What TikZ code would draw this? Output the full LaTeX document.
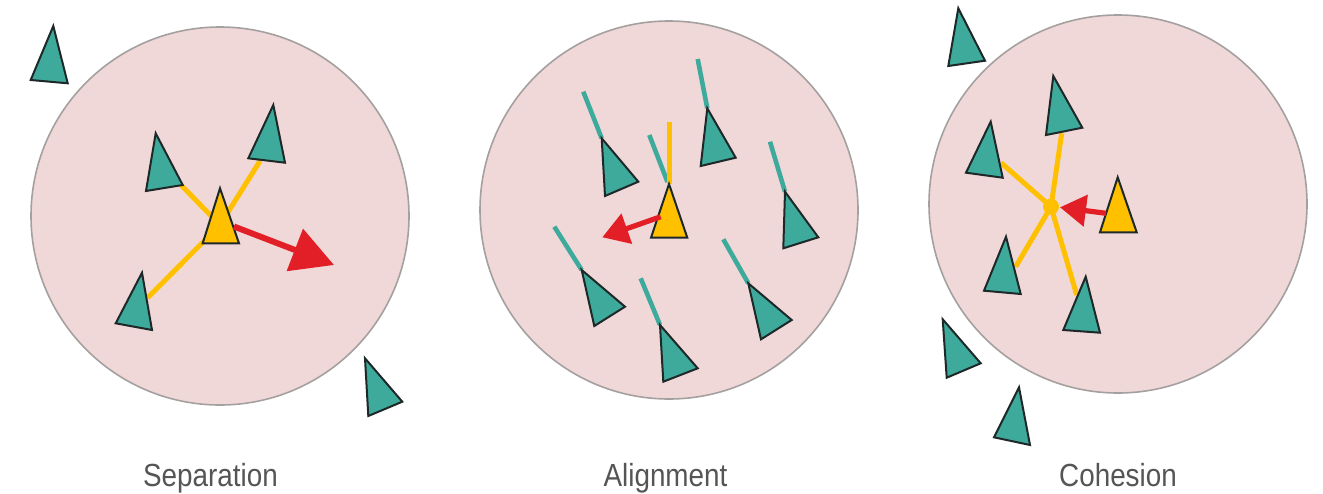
\documentclass[tikz,border=0pt]{standalone}
\usepackage{fontspec}
\setmainfont{Liberation Sans}
\usetikzlibrary{arrows.meta}
\definecolor{pinkfill}{RGB}{240,216,216}
\definecolor{ringgray}{RGB}{165,160,160}
\definecolor{boidteal}{RGB}{62,170,156}
\definecolor{boidyellow}{RGB}{255,192,0}
\definecolor{arrowred}{RGB}{226,30,38}
\definecolor{labelgray}{RGB}{85,85,85}
\definecolor{edgedark}{RGB}{30,40,40}
\newcommand\boidtri[4]{\filldraw[#1] #2 -- #3 -- #4 -- cycle;}
\begin{document}
\begin{tikzpicture}[x=0.5pt,y=-0.5pt,
  zone/.style={fill=pinkfill,draw=ringgray,line width=0.8pt},
  tealboid/.style={fill=boidteal,draw=edgedark,line width=1pt,line join=miter},
  yellowboid/.style={fill=boidyellow,draw=edgedark,line width=1pt,line join=miter},
  yline/.style={draw=boidyellow,line width=2.5pt},
  tline/.style={draw=boidteal,line width=2.3pt},
  bigred/.style={draw=arrowred,line width=3pt,-{Triangle[length=21pt,width=22pt]}},
  smallred/.style={draw=arrowred,line width=2.6pt,-{Triangle[length=13pt,width=15.5pt]}},
  lbl/.style={text=labelgray,font=\fontsize{16}{18}\selectfont,inner sep=0pt,anchor=base,xscale=0.87}]
\useasboundingbox (0,0) rectangle (1323,493);

% ---------------- Separation ----------------
\draw[zone] (220,216) circle[radius=189];
\coordinate (s1) at (220,225);
\coordinate (sa) at (181,185);
\coordinate (sb) at (260,161);
\coordinate (sc) at (147.7,297.7);
\draw[yline] (sa) -- (s1);
\draw[yline] (sb) -- (s1);
\draw[yline] (sc) -- (s1);
\boidtri{tealboid}{(53.3,26)}{(30.7,80)}{(67.7,83.3)}
\boidtri{tealboid}{(155.7,133.3)}{(146,191)}{(182.7,185)}
\boidtri{tealboid}{(273.3,105)}{(248.3,158.3)}{(285,162.7)}
\boidtri{tealboid}{(142,272.7)}{(115.7,323.3)}{(152,330)}
\boidtri{tealboid}{(365,358.3)}{(368.3,416)}{(402.3,401.7)}
\boidtri{yellowboid}{(220,188.3)}{(202.7,243.3)}{(239,243.3)}
\coordinate (sr0) at (234,226.5);
\coordinate (sr1) at (334,265);
\draw[bigred] (sr0) -- (sr1);
\node[lbl] (lsep) at (210.5,486) {Separation};

% ---------------- Alignment ----------------
\draw[zone] (669,210) circle[radius=189];
\coordinate (a1s) at (583.3,91.7);  \coordinate (a1e) at (601.7,138.3);
\coordinate (a2s) at (697.7,59);    \coordinate (a2e) at (707.3,108.3);
\coordinate (a4s) at (770,141.7);   \coordinate (a4e) at (785,191.7);
\coordinate (a5s) at (554.3,226.7); \coordinate (a5e) at (581.7,270);
\coordinate (a6s) at (640.7,278.3); \coordinate (a6e) at (660,325);
\coordinate (a7s) at (723.3,239.3); \coordinate (a7e) at (748.3,283.3);
\coordinate (avs) at (649.3,135);   \coordinate (ave) at (667.5,182);
\coordinate (ays) at (669,121.7);   \coordinate (aye) at (669,184);
\draw[tline] (a1s) -- (a1e);
\draw[tline] (a2s) -- (a2e);
\draw[tline] (a4s) -- (a4e);
\draw[tline] (a5s) -- (a5e);
\draw[tline] (a6s) -- (a6e);
\draw[tline] (a7s) -- (a7e);
\draw[tline] (avs) -- (ave);
\draw[yline] (ays) -- (aye);
\boidtri{tealboid}{(601.7,138.3)}{(605,196)}{(638.3,181.7)}
\boidtri{tealboid}{(707.3,108.3)}{(700.7,166)}{(735.7,157.7)}
\boidtri{tealboid}{(785,191.7)}{(783.3,248.3)}{(818.3,237.3)}
\boidtri{tealboid}{(581.7,270)}{(594.3,326)}{(625,306.7)}
\boidtri{tealboid}{(660,325)}{(663.3,381.7)}{(697.7,368.3)}
\boidtri{tealboid}{(748.3,283.3)}{(761,339.3)}{(791.7,320)}
\boidtri{yellowboid}{(669,184)}{(651,237.7)}{(687.3,237.7)}
\coordinate (ar0) at (660.7,216.7);
\coordinate (ar1) at (602.3,237.3);
\draw[smallred] (ar0) -- (ar1);
\node[lbl] (lali) at (665.5,486) {Alignment};

% ---------------- Cohesion ----------------
\draw[zone] (1118,204) circle[radius=189];
\coordinate (cc) at (1051,206.7);
\coordinate (ca) at (1061.7,133.3);
\coordinate (cb) at (1001,162.7);
\coordinate (cd) at (1015.7,266.7);
\coordinate (ce) at (1076.7,295);
\draw[yline] (ca) -- (cc);
\draw[yline] (cb) -- (cc);
\draw[yline] (cd) -- (cc);
\draw[yline] (ce) -- (cc);
\fill[boidyellow] (cc) circle[radius=8];
\boidtri{tealboid}{(958.3,8.3)}{(948.3,66)}{(985,60.7)}
\boidtri{tealboid}{(1053.3,76)}{(1046,135)}{(1082.3,127.7)}
\boidtri{tealboid}{(990.7,121.7)}{(966,172.7)}{(1002.7,177.7)}
\boidtri{tealboid}{(1006,236.7)}{(984,290.7)}{(1020.7,294)}
\boidtri{tealboid}{(1085.7,276.7)}{(1063.3,330)}{(1100,332.7)}
\boidtri{tealboid}{(942.7,319.3)}{(946.7,377.7)}{(980.7,363.3)}
\boidtri{tealboid}{(1019,387.3)}{(994,437.3)}{(1030,445)}
\boidtri{yellowboid}{(1117.7,177.3)}{(1100,232.3)}{(1136.7,232.3)}
\coordinate (cr0) at (1106,213.3);
\coordinate (cr1) at (1060,207.3);
\draw[smallred] (cr0) -- (cr1);
\node[lbl] (lcoh) at (1118,486) {Cohesion};
\end{tikzpicture}
\end{document}
